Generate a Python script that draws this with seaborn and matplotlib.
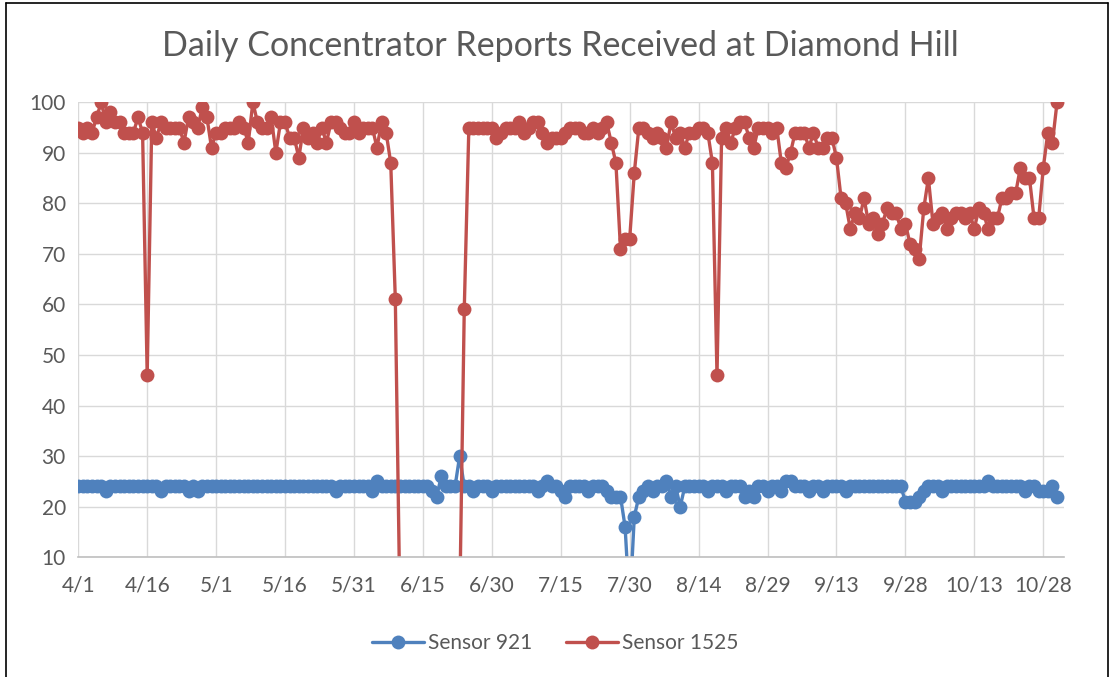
import pandas as pd
import seaborn as sns
import matplotlib.pyplot as plt
from matplotlib.lines import Line2D

# daily values, 4/1 .. 10/31
sensor_921 = [
    24, 24, 24, 24, 24, 24, 23, 24, 24, 24, 24, 24, 24, 24, 24,
    24, 24, 24, 23, 24, 24, 24, 24, 24, 23, 24, 23, 24, 24, 24,
    24, 24, 24, 24, 24, 24, 24, 24, 24, 24, 24, 24, 24, 24, 24,
    24, 24, 24, 24, 24, 24, 24, 24, 24, 24, 24, 23, 24, 24, 24,
    24, 24, 24, 24, 23, 25, 24, 24, 24, 24,
    24, 24, 24, 24, 24, 24, 24, 23, 22, 26, 24, 24, 24, 30,
    24, 24, 23, 24, 24, 24, 23, 24, 24, 24, 24, 24, 24, 24, 24, 24,
    23, 24, 25, 24, 24, 23, 22, 24, 24, 24, 24, 23, 24, 24, 24,
    23, 22, 22, 22, 16, 0, 18, 22, 23, 24, 23, 24, 24, 25, 22,
    24, 20, 24, 24, 24, 24, 24, 23, 24, 24, 24, 23, 24, 24, 24,
    22, 23, 22, 24, 24, 23, 24, 24, 23, 25, 25, 24, 24, 24, 23,
    24, 24, 23, 24, 24, 24, 24, 23, 24, 24, 24, 24, 24, 24, 24,
    24, 24, 24, 24, 24, 21, 21, 21, 22, 23, 24, 24, 24, 23, 24,
    24, 24, 24, 24, 24, 24, 24, 24, 25, 24, 24, 24, 24, 24, 24,
    24, 23, 24, 24, 23, 23, 23, 24, 22,
]
sensor_1525 = [
    95, 94, 95, 94, 97, 100, 96, 98, 96, 96, 94, 94, 94, 97, 94,
    46, 96, 93, 96, 95, 95, 95, 95, 92, 97, 96, 95, 99, 97, 91,
    94, 94, 95, 95, 95, 96, 95, 92, 100, 96, 95, 95, 97, 90, 96,
    96, 93, 93, 89, 95, 93, 94, 92, 95, 92, 96, 96, 95, 94, 94,
    96, 94, 95, 95, 95, 91, 96, 94, 88, 61,
    0, 0, 0, 0, 0, 0, 0, 0, 0, 0, 0, 0, 0, 0,
    59, 95, 95, 95, 95, 95, 95, 93, 94, 95, 95, 95, 96, 94, 95, 96,
    96, 94, 92, 93, 93, 93, 94, 95, 95, 95, 94, 94, 95, 94, 95,
    96, 92, 88, 71, 73, 73, 86, 95, 95, 94, 93, 94, 93, 91, 96,
    93, 94, 91, 94, 94, 95, 95, 94, 88, 46, 93, 95, 92, 95, 96,
    96, 93, 91, 95, 95, 95, 94, 95, 88, 87, 90, 94, 94, 94, 91,
    94, 91, 91, 93, 93, 89, 81, 80, 75, 78, 77, 81, 76, 77, 74,
    76, 79, 78, 78, 75, 76, 72, 71, 69, 79, 85, 76, 77, 78, 75,
    77, 78, 78, 77, 78, 75, 79, 78, 75, 77, 77, 81, 81, 82, 82,
    87, 85, 85, 77, 77, 87, 94, 92, 100,
]
dates = pd.date_range('2019-04-01', periods=len(sensor_1525), freq='D')
tick_dates = pd.date_range('2019-04-01', '2019-10-28', freq='15D')

df = pd.DataFrame({'Date': dates, 'Sensor 921': sensor_921, 'Sensor 1525': sensor_1525})
dfm = df.melt(id_vars='Date', var_name='Sensor', value_name='Reports')

sns.set_style('white')
plt.rcParams['font.family'] = ['Lato', 'DejaVu Sans']

fig = plt.figure(figsize=(11.1, 6.77), dpi=100)
ax = fig.add_axes([0.0705, 0.177, 0.888, 0.672])

sns.lineplot(data=dfm, x='Date', y='Reports', hue='Sensor',
             palette={'Sensor 921': '#4f81bd', 'Sensor 1525': '#c0504d'},
             marker='o', markersize=10, markeredgewidth=0, linewidth=2.4, ax=ax)

ax.set_ylim(10, 100)
ax.set_yticks(range(10, 101, 10))
ax.set_xlim(dates[0], dates[0] + pd.Timedelta(days=214.5))
ax.set_xticks(tick_dates)
ax.set_xticklabels([f'{d.month}/{d.day}' for d in tick_dates])
ax.grid(True, color='#d9d9d9', linewidth=1)
ax.set_axisbelow(True)
for s in ['top', 'right', 'left']:
    ax.spines[s].set_visible(False)
ax.spines['bottom'].set_color('#bfbfbf')
ax.spines['bottom'].set_linewidth(1.2)
ax.tick_params(axis='both', length=0, labelsize=15, colors='#595959')
ax.tick_params(axis='x', pad=13)
ax.tick_params(axis='y', pad=9)
ax.set_xlabel('')
ax.set_ylabel('')

ax.legend(loc='upper center', bbox_to_anchor=(0.5, 0.092), bbox_transform=fig.transFigure,
          ncol=2, frameon=False, fontsize=15, labelcolor='#595959',
          handlelength=2.5, columnspacing=1.6, handletextpad=0.2)

fig.text(0.505, 0.932, 'Daily Concentrator Reports Received at Diamond Hill',
         ha='center', va='center', fontsize=24.5, color='#595959')

# chart frame
for xs, ys in [([0.005, 0.005], [0, 0.996]), ([0.005, 0.998], [0.996, 0.996]), ([0.998, 0.998], [0, 0.996])]:
    fig.add_artist(Line2D(xs, ys, color='black', linewidth=1.2, transform=fig.transFigure))

plt.savefig('out.png', dpi=100)
